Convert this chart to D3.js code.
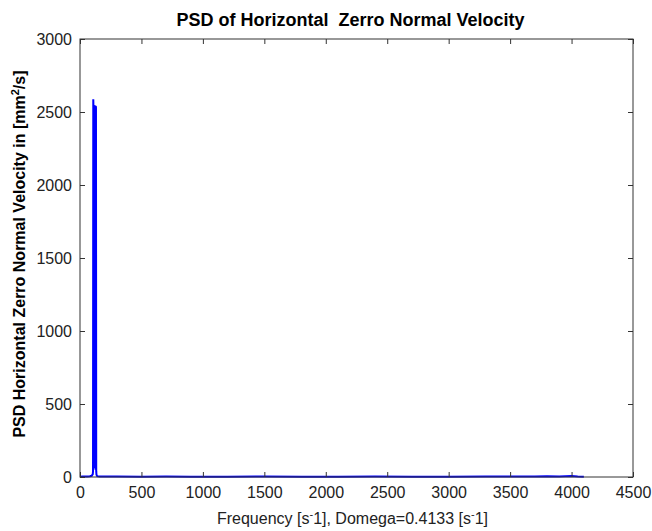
<!DOCTYPE html>
<html>
<head>
<meta charset="utf-8">
<script src="https://cdn.jsdelivr.net/npm/d3@7"></script>
<style>
  body { margin: 0; background: #fff; }
  svg { display: block; }
  text { font-family: "Liberation Sans", Arial, sans-serif; }
</style>
</head>
<body>
<div id="chart"></div>
<script>
const freq = [0, 20, 40, 60, 80, 95, 104, 106, 108, 109, 110, 112, 114, 116, 118, 120, 122, 124, 126, 128, 130, 132, 134, 140, 160, 200,
  300, 500, 700, 900, 1200, 1500, 1800, 2100, 2400, 2700, 3000, 3300, 3500, 3700, 3800, 3900, 4000, 4050, 4100]
const psd = [2, 3, 3, 4, 5, 8, 20, 40, 2587, 2550, 60, 2548, 80, 2546, 70, 2545, 60, 2544, 50, 2540, 2530, 40, 15, 6, 4, 3,
  3, 2, 3, 2, 2, 3, 2, 2, 3, 2, 2, 3, 4, 3, 5, 4, 6, 3, 2]
const xTicks = [0, 500, 1000, 1500, 2000, 2500, 3000, 3500, 4000, 4500]
const yTicks = [0, 500, 1000, 1500, 2000, 2500, 3000]

const width = 652, height = 531
const margin = { top: 39, right: 19, bottom: 54, left: 80 }
const w = width - margin.left - margin.right
const h = height - margin.top - margin.bottom

const svg = d3.select("#chart")
  .append("svg")
  .attr("width", width)
  .attr("height", height)

const g = svg.append("g")
  .attr("transform", `translate(${margin.left},${margin.top})`)

const x = d3.scaleLinear().domain([0, 4500]).range([0, w])
const y = d3.scaleLinear().domain([0, 3000]).range([h, 0])

g.append("rect")
  .attr("width", w)
  .attr("height", h)
  .attr("fill", "#fff")

const line = d3.line()
  .x(d => x(d[0]))
  .y(d => y(d[1]))

g.append("path")
  .datum(d3.zip(freq, psd))
  .attr("d", line)
  .attr("fill", "none")
  .attr("stroke", "#0000ff")
  .attr("stroke-width", 2)

// axes, ticks pointing inward on all sides
const axisStyle = sel => {
  sel.select(".domain").remove()
  sel.selectAll("line").attr("stroke", "#333")
  sel.selectAll("text").attr("font-size", "16px").attr("fill", "#222")
}

g.append("g")
  .attr("transform", `translate(0,${h})`)
  .call(d3.axisBottom(x).tickValues(xTicks).tickSize(-5).tickPadding(10).tickFormat(d3.format("d")))
  .call(axisStyle)

g.append("g")
  .call(d3.axisLeft(y).tickValues(yTicks).tickSize(-5).tickPadding(8).tickFormat(d3.format("d")))
  .call(axisStyle)

g.append("g")
  .call(d3.axisTop(x).tickValues(xTicks).tickSize(-5).tickFormat(""))
  .call(axisStyle)

g.append("g")
  .attr("transform", `translate(${w},0)`)
  .call(d3.axisRight(y).tickValues(yTicks).tickSize(-5).tickFormat(""))
  .call(axisStyle)

g.append("rect")
  .attr("width", w)
  .attr("height", h)
  .attr("fill", "none")
  .attr("stroke", "#333")
  .attr("stroke-width", 1)

// title
svg.append("text")
  .attr("x", margin.left + w / 2 - 6)
  .attr("y", 26)
  .attr("text-anchor", "middle")
  .attr("font-size", "18px")
  .attr("font-weight", "bold")
  .style("white-space", "pre")
  .text("PSD of Horizontal  Zerro Normal Velocity")

// x label
const xl = svg.append("text")
  .attr("x", margin.left + w / 2 - 4)
  .attr("y", 524)
  .attr("text-anchor", "middle")
  .attr("font-size", "16px")
  .attr("fill", "#222")
xl.append("tspan").text("Frequency [s")
xl.append("tspan").attr("dy", -6).attr("font-size", "11px").text("-")
xl.append("tspan").attr("dy", 6).text("1], Domega=0.4133 [s")
xl.append("tspan").attr("dy", -6).attr("font-size", "11px").text("-")
xl.append("tspan").attr("dy", 6).text("1]")

// y label
const yl = svg.append("text")
  .attr("transform", `translate(25,${margin.top + h / 2 - 4}) rotate(-90)`)
  .attr("text-anchor", "middle")
  .attr("font-size", "16px")
  .attr("font-weight", "bold")
yl.append("tspan").text("PSD Horizontal Zerro Normal Velocity in [mm")
yl.append("tspan").attr("dy", -6).attr("font-size", "11px").text("2")
yl.append("tspan").attr("dy", 6).text("/s]")
</script>
</body>
</html>
